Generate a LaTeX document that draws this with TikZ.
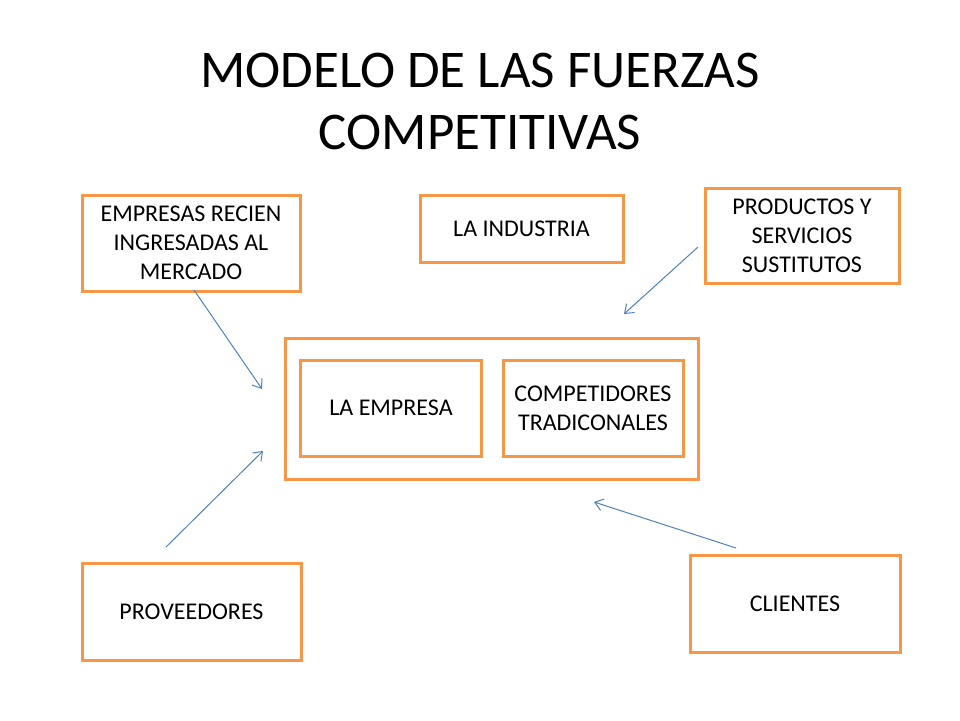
\documentclass[tikz,border=0pt]{standalone}
\usepackage{fontspec}
\setmainfont{Carlito}
\usetikzlibrary{arrows.meta}
\definecolor{boxorange}{HTML}{F79646}
\definecolor{arrowblue}{HTML}{4F81BD}
\begin{document}
\begin{tikzpicture}[x=1pt,y=-1pt,
  box/.style={draw=boxorange,line width=3pt,rectangle,align=center,inner sep=0pt,
    font=\fontsize{24}{29}\selectfont},
  force/.style={draw=arrowblue,line width=1pt,-{Straight Barb[length=8pt,width=12pt]}}]
\useasboundingbox (0,0) rectangle (960,720);
\fill[white] (0,0) rectangle (960,720);
\node[font=\fontsize{53}{62}\selectfont,align=center] (title) at (480,101) {MODELO DE LAS FUERZAS\\COMPETITIVAS};
\node[box,minimum width=218pt,minimum height=96pt] (emp) at (191,243) {EMPRESAS RECIEN\\INGRESADAS AL\\MERCADO};
\node[box,minimum width=203pt,minimum height=67pt] (ind) at (521.5,228.5) {LA INDUSTRIA};
\node[box,minimum width=194pt,minimum height=95pt] (prod) at (802,235.5) {PRODUCTOS Y\\SERVICIOS\\SUSTITUTOS};
\node[box,minimum width=413pt,minimum height=141pt] (outer) at (492,408.5) {};
\node[box,minimum width=181pt,minimum height=96pt] (laemp) at (391,408) {LA EMPRESA};
\node[box,minimum width=180pt,minimum height=96pt] (comp) at (593,408) {COMPETIDORES\\TRADICONALES};
\node[box,minimum width=219pt,minimum height=97pt] (prov) at (191.5,611.5) {PROVEEDORES};
\node[box,minimum width=210pt,minimum height=97pt] (cli) at (795,603.5) {CLIENTES};
\coordinate (a1s) at (194,290);
\coordinate (a1e) at (262,389);
\coordinate (a2s) at (698,247);
\coordinate (a2e) at (624,314);
\coordinate (a3s) at (166,547);
\coordinate (a3e) at (263,451);
\coordinate (a4s) at (736,548);
\coordinate (a4e) at (594,502);
\draw[force] (a1s) -- (a1e);
\draw[force] (a2s) -- (a2e);
\draw[force] (a3s) -- (a3e);
\draw[force] (a4s) -- (a4e);
\end{tikzpicture}
\end{document}
